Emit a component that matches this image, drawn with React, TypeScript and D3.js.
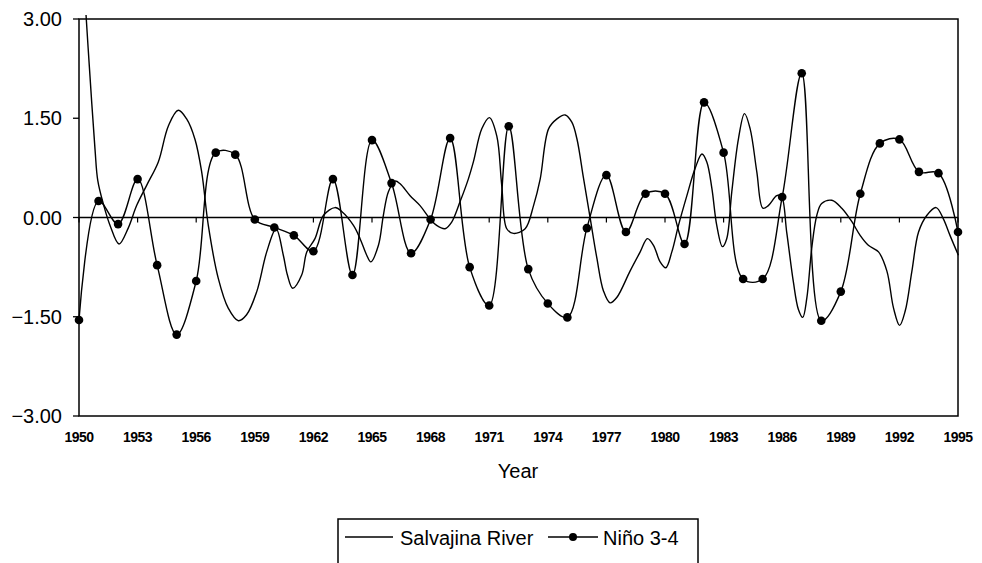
import React from 'react';
import * as d3 from 'd3';

// Niño 3-4 index, one value per year 1950-1995
const ninoYears = d3.range(1950, 1996);
const ninoValues = [
  -1.55, 0.25, -0.1, 0.58, -0.72, -1.77, -0.96, 0.98, 0.95, -0.03,
  -0.15, -0.27, -0.51, 0.58, -0.87, 1.17, 0.52, -0.54, -0.03, 1.2,
  -0.75, -1.33, 1.38, -0.78, -1.3, -1.51, -0.16, 0.64, -0.22, 0.36,
  0.36, -0.4, 1.74, 0.98, -0.93, -0.93, 0.31, 2.18, -1.56, -1.12,
  0.36, 1.12, 1.18, 0.69, 0.67, -0.22
];

// Salvajina River anomaly (time in decimal years)
const salvajinaTimes = [
  1950.36, 1950.53, 1950.82, 1950.96, 1951.25, 1951.59, 1952.05, 1952.52, 1952.95, 1953.47,
  1954.06, 1954.57, 1955.08, 1955.51, 1955.94, 1956.28, 1956.62, 1957.13, 1957.64, 1958.16,
  1958.58, 1959.1, 1959.61, 1960.09, 1960.46, 1960.67, 1960.94, 1961.4, 1961.66, 1962.08,
  1962.51, 1963.11, 1963.45, 1964.05, 1964.39, 1964.73, 1964.94, 1965.33, 1965.58, 1965.84,
  1966.18, 1966.44, 1966.95, 1967.46, 1967.97, 1968.31, 1968.74, 1969.08, 1969.51, 1969.93,
  1970.19, 1970.62, 1971.01, 1971.39, 1971.64, 1971.9, 1972.24, 1972.84, 1973.27, 1973.61,
  1974.04, 1974.47, 1974.89, 1975.23, 1975.49, 1975.83, 1976.17, 1976.51, 1976.85, 1977.19,
  1977.53, 1978.21, 1978.73, 1979.1, 1979.41, 1979.75, 1980.04, 1980.35, 1980.69, 1981.12,
  1981.54, 1981.89, 1982.14, 1982.4, 1982.65, 1982.94, 1983.16, 1983.42, 1983.76, 1984.07,
  1984.36, 1984.7, 1985.01, 1985.29, 1985.72, 1985.95, 1986.23, 1986.57, 1986.83, 1987.05,
  1987.26, 1987.51, 1987.77, 1988.02, 1988.54, 1989.05, 1989.56, 1989.99, 1990.41, 1990.93,
  1991.36, 1991.7, 1992.01, 1992.3, 1992.64, 1992.98, 1993.4, 1993.88, 1994.25, 1994.59,
  1995.02
];
const salvajinaValues = [
  3.06, 2.28, 1.03, 0.56, 0.2, -0.12, -0.4, -0.16, 0.18, 0.49,
  0.84, 1.38, 1.62, 1.49, 1.18, 0.69, -0.12, -0.92, -1.37, -1.56,
  -1.47, -1.12, -0.52, -0.17, -0.57, -0.87, -1.07, -0.87, -0.52, -0.32,
  0.03, 0.15, 0.09, -0.12, -0.32, -0.57, -0.67, -0.42, 0.03, 0.39,
  0.55, 0.51, 0.33, 0.18, -0.02, -0.12, -0.17, -0.07, 0.24, 0.58,
  0.84, 1.34, 1.51, 1.23, 0.49, -0.17, -0.24, -0.17, 0.18, 0.58,
  1.34, 1.49, 1.55, 1.44, 1.19, 0.59, -0.01, -0.61, -1.11, -1.29,
  -1.21, -0.81, -0.52, -0.32, -0.42, -0.67, -0.76, -0.52, -0.12, 0.33,
  0.74, 0.96, 0.84, 0.44, -0.12, -0.44, -0.32, 0.39, 1.19, 1.57,
  1.34, 0.69, 0.14, 0.18, 0.33, 0.33, -0.22, -0.97, -1.39, -1.51,
  -1.22, -0.47, 0.03, 0.21, 0.26, 0.14, -0.06, -0.27, -0.42, -0.52,
  -0.81, -1.37, -1.63, -1.41, -0.81, -0.22, 0.03, 0.15, -0.02, -0.27,
  -0.57
];

const yTicks = [3, 1.5, 0, -1.5, -3];
const xTickYears = [1950, 1953, 1956, 1959, 1962, 1965, 1968, 1971, 1974, 1977, 1980, 1983, 1986, 1989, 1992, 1995];

const W = 982;
const H = 563;
const plot = { left: 79, right: 958, top: 19, bottom: 416 };
const font = 'Arial, "Liberation Sans", sans-serif';

export default function App() {
  const x = d3.scaleLinear().domain([1950, 1995]).range([plot.left, plot.right]);
  const y = d3.scaleLinear().domain([-3, 3]).range([plot.bottom, plot.top]);
  const fmt = d3.format('.2f');

  const line = d3.line<[number, number]>()
    .x(d => x(d[0]))
    .y(d => y(d[1]))
    .curve(d3.curveCatmullRom.alpha(0.5));

  const salvajina = salvajinaTimes.map((t, i) => [t, salvajinaValues[i]] as [number, number]);
  const nino = ninoYears.map((t, i) => [t, ninoValues[i]] as [number, number]);

  return (
    <svg width={W} height={H} style={{ position: 'absolute', left: 0, top: 0, background: '#fff' }}
      fontFamily={font}>
      {/* plot frame */}
      <rect x={plot.left} y={plot.top} width={plot.right - plot.left} height={plot.bottom - plot.top}
        fill="none" stroke="#000" strokeWidth={1.5} />

      {/* y axis ticks + labels */}
      {yTicks.map(v => (
        <g key={v}>
          <line x1={plot.left - 6} x2={plot.left} y1={y(v)} y2={y(v)} stroke="#000" strokeWidth={1.3} />
          <text x={62} y={y(v) + 7} textAnchor="end" fontSize={20}>{fmt(v)}</text>
        </g>
      ))}

      {/* zero line with year ticks */}
      <line x1={plot.left} x2={plot.right} y1={y(0)} y2={y(0)} stroke="#000" strokeWidth={1.5} />
      {xTickYears.map(yr => (
        <g key={yr}>
          <line x1={x(yr)} x2={x(yr)} y1={y(0)} y2={y(0) + 5} stroke="#000" strokeWidth={1.2} />
          <text x={x(yr)} y={442} textAnchor="middle" fontSize={14} fontWeight="bold" letterSpacing={-0.5}>{yr}</text>
        </g>
      ))}

      <text x={518} y={478} textAnchor="middle" fontSize={20}>Year</text>

      {/* series */}
      <path d={line(salvajina) ?? ''} fill="none" stroke="#000" strokeWidth={1.4} />
      <path d={line(nino) ?? ''} fill="none" stroke="#000" strokeWidth={1.4} />
      {nino.map(d => (
        <circle key={d[0]} cx={x(d[0])} cy={y(d[1])} r={4.3} fill="#000" />
      ))}

      {/* legend */}
      <rect x={338} y={519} width={360} height={60} fill="#fff" stroke="#000" strokeWidth={1.5} />
      <line x1={345} x2={393} y1={537} y2={537} stroke="#000" strokeWidth={1.4} />
      <text x={400} y={545} fontSize={20}>Salvajina River</text>
      <line x1={548} x2={598} y1={537} y2={537} stroke="#000" strokeWidth={1.4} />
      <circle cx={573} cy={537} r={4} fill="#000" />
      <text x={603} y={545} fontSize={20}>Niño 3-4</text>
    </svg>
  );
}
